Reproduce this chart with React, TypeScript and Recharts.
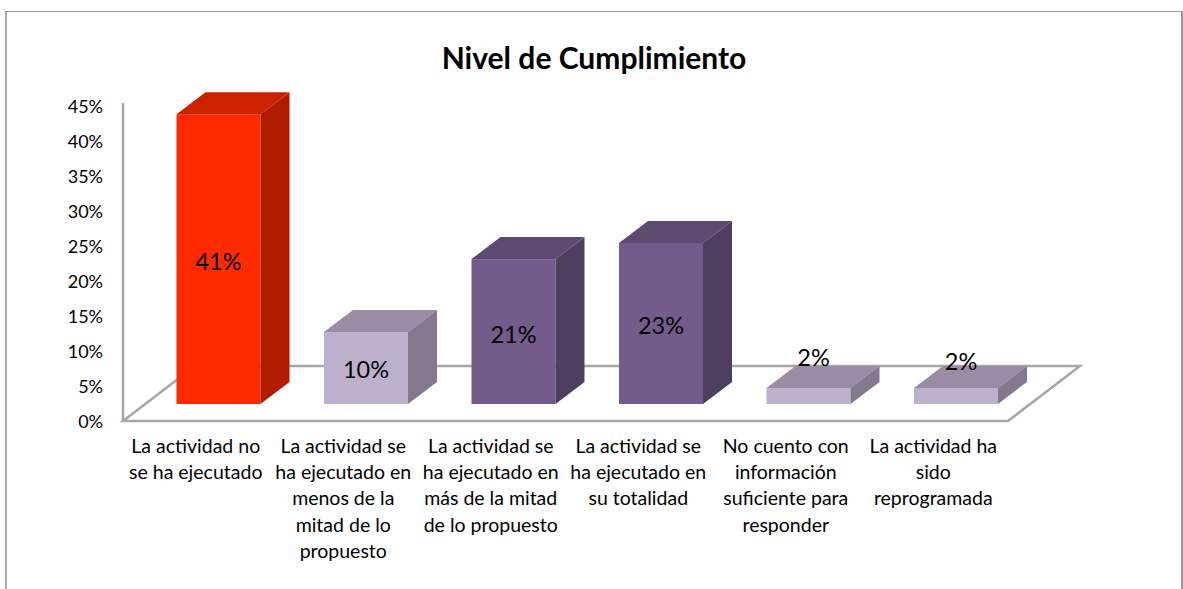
import { Bar, BarChart, Cell, LabelList, XAxis, YAxis, usePlotArea } from "recharts";

const categories = [
  "La actividad no|se ha ejecutado",
  "La actividad se|ha ejecutado en|menos de la|mitad de lo|propuesto",
  "La actividad se|ha ejecutado en|más de la mitad|de lo propuesto",
  "La actividad se|ha ejecutado en|su totalidad",
  "No cuento con|información|suficiente para|responder",
  "La actividad ha|sido|reprogramada",
];
const values = [41.4, 10.3, 20.7, 23, 2.3, 2.3];
const yTicks = [0, 5, 10, 15, 20, 25, 30, 35, 40, 45];

const RED = { front: "#ff2a00", top: "#cc2200", side: "#b01c00" };
const LIGHT = { front: "#bdb0cd", top: "#9a8ca5", side: "#84788f" };
const DARK = { front: "#735c8b", top: "#5c4a70", side: "#4e3f5f" };
const barColors = [RED, LIGHT, DARK, DARK, LIGHT, LIGHT];

const data = categories.map((name, i) => ({ name, value: values[i] }));

const FONT = "Lato, sans-serif";
const GRID = "#a6a6a6";
// the bars stand on the floor, a bit behind its front edge
const SHIFT_X = 21.5;
const SHIFT_Y = 17;
const DEPTH_X = 29;
const DEPTH_Y = 22;

const Floor = () => {
  const plot = usePlotArea();
  if (!plot) return null;
  const left = plot.x;
  const right = plot.x + plot.width;
  const bottom = plot.y + plot.height;
  return (
    <g>
      <text x={594} y={69} textAnchor="middle" fontFamily={FONT} fontWeight={700} fontSize={30} fill="#000">
        Nivel de Cumplimiento
      </text>
      <polygon
        points={`${left},${bottom} ${right},${bottom} ${right + 72},${bottom - 55} ${left + 72},${bottom - 55}`}
        fill="#fff"
        stroke={GRID}
        strokeWidth={2.5}
      />
      <line x1={left} y1={plot.y - 3} x2={left} y2={bottom} stroke={GRID} strokeWidth={2.5} />
    </g>
  );
};

const Box = (props: any) => {
  const { x, y, width, height, index } = props;
  const c = barColors[index];
  const l = x + SHIFT_X;
  const r = l + width;
  const t = y - SHIFT_Y;
  const b = t + height;
  return (
    <g>
      <rect x={l} y={t} width={width} height={height} fill={c.front} />
      <polygon points={`${l},${t} ${r},${t} ${r + DEPTH_X},${t - DEPTH_Y} ${l + DEPTH_X},${t - DEPTH_Y}`} fill={c.top} />
      <polygon points={`${r},${t} ${r + DEPTH_X},${t - DEPTH_Y} ${r + DEPTH_X},${b - DEPTH_Y} ${r},${b}`} fill={c.side} />
    </g>
  );
};

// small bars carry the label above, as in the original
const labelNudge = [
  { x: 0, y: 2 },
  { x: 0, y: 1 },
  { x: 0, y: 2 },
  { x: 0, y: 1 },
  { x: 5, y: -39 },
  { x: 5, y: -35 },
];

const ValueLabel = (props: any) => {
  const { x, y, width, height, index, value } = props;
  const n = labelNudge[index];
  return (
    <text
      x={x + SHIFT_X + width / 2 + n.x}
      y={y - SHIFT_Y + height / 2 + n.y}
      textAnchor="middle"
      dominantBaseline="central"
      fontFamily={FONT}
      fontSize={23.5}
      fill="#000"
    >
      {`${Math.round(value)}%`}
    </text>
  );
};

const CategoryTick = (props: any) => {
  const { x, payload } = props;
  return (
    <text x={x - 1} y={453} textAnchor="middle" fontFamily={FONT} fontSize={19.5} fill="#000">
      {String(payload.value)
        .split("|")
        .map((line, i) => (
          <tspan key={line} x={x - 1} dy={i === 0 ? 0 : 26.2}>
            {line}
          </tspan>
        ))}
    </text>
  );
};

export default function App() {
  return (
    <div style={{ position: "absolute", left: 0, top: 0, width: 1183, height: 589, overflow: "hidden", background: "#fff" }}>
      <div
        style={{
          position: "absolute",
          left: 5,
          top: 11,
          width: 1178,
          height: 578,
          boxSizing: "border-box",
          borderTop: "1px solid #999",
          borderLeft: "2px solid #aaa",
          borderRight: "2px solid #999",
        }}
      />
      <BarChart
        width={1183}
        height={589}
        data={data}
        margin={{ top: 106, right: 175, bottom: 0, left: 0 }}
        style={{ position: "absolute", left: 0, top: 0 }}
      >
        <Floor />
        <XAxis dataKey="name" height={168} axisLine={false} tickLine={false} interval={0} tick={<CategoryTick />} />
        <YAxis
          width={123}
          domain={[0, 45]}
          ticks={yTicks}
          interval={0}
          axisLine={false}
          tickLine={false}
          tickMargin={14}
          tickFormatter={(v: number) => `${v}%`}
          tick={{ fontFamily: FONT, fontSize: 18, fill: "#000", dy: 1 }}
        />
        <Bar dataKey="value" barSize={84} shape={<Box />} isAnimationActive={false}>
          {data.map((d, i) => (
            <Cell key={d.name} fill={barColors[i].front} />
          ))}
          <LabelList dataKey="value" content={<ValueLabel />} />
        </Bar>
      </BarChart>
    </div>
  );
}
